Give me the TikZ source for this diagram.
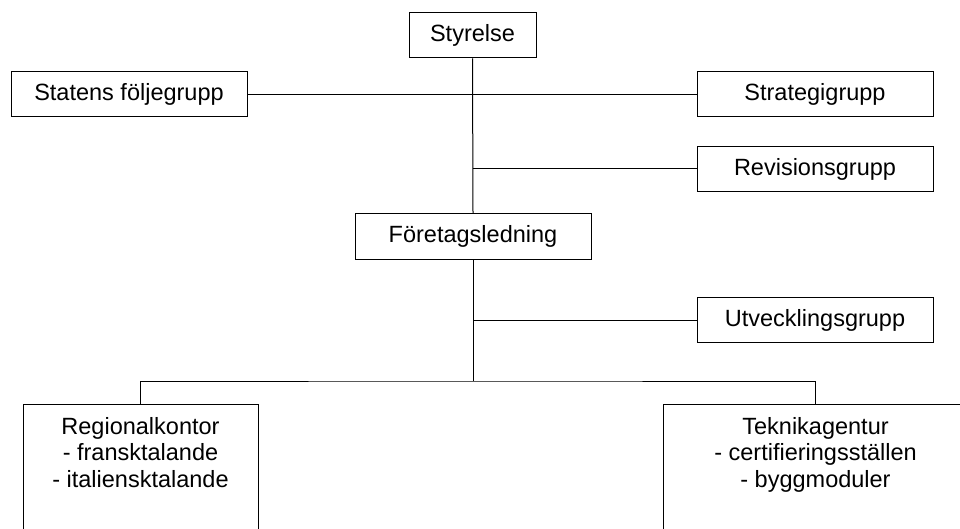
\documentclass[tikz,border=0pt]{standalone}
\usepackage{fontspec}
\setmainfont{Liberation Sans}
\begin{document}
\begin{tikzpicture}[x=1pt,y=-1pt,
  box/.style={draw=black,line width=1pt,rectangle,inner sep=0pt,font=\fontsize{23.5}{26.5}\selectfont},
  bigbox/.style={draw=black,line width=1pt,rectangle,inner sep=0pt,minimum height=142pt},
  boxtext/.style={inner sep=0pt,align=center,anchor=north,font=\fontsize{23.5}{26.5}\selectfont},
  conn/.style={line width=1pt,draw=black}]
\useasboundingbox (0,0) rectangle (960,529);
\clip (0,0) rectangle (960,529);
\node[box,minimum width=127pt,minimum height=45pt] (sty) at (472.5,35.5) {Styrelse};
\node[box,minimum width=236pt,minimum height=45pt] (sfg) at (129,94.5) {Statens följegrupp};
\node[box,minimum width=236pt,minimum height=45pt] (strat) at (815,94.5) {Strategigrupp};
\node[box,minimum width=236pt,minimum height=45pt] (rev) at (815,169) {Revisionsgrupp};
\node[box,minimum width=236pt,minimum height=45pt] (fl) at (473,236.5) {Företagsledning};
\node[box,minimum width=236pt,minimum height=45pt] (utv) at (815,320) {Utvecklingsgrupp};
\node[bigbox,minimum width=235pt,anchor=north] (reg) at (140.5,404) {};
\node[bigbox,minimum width=340pt,anchor=north west] (tek) at (663,404) {};
\node[boxtext] (regt) at ([yshift=-13pt]reg.north) {Regionalkontor\\- fransktalande\\- italiensktalande};
\node[boxtext] (tekt) at (815.5,417) {Teknikagentur\\- certifieringsställen\\- byggmoduler};
\coordinate (bus) at (473,381);
\draw[conn] (sty.south) -- (fl.north);
\draw[conn] (sfg.east) -- (strat.west);
\draw[conn] (sty.south |- rev.west) -- (rev.west);
\draw[conn] (fl.south) -- (bus);
\draw[conn] (fl.south |- utv.west) -- (utv.west);
\draw[conn] (reg.north) |- (bus) -| (tekt.north |- tek.north);
\end{tikzpicture}
\end{document}
